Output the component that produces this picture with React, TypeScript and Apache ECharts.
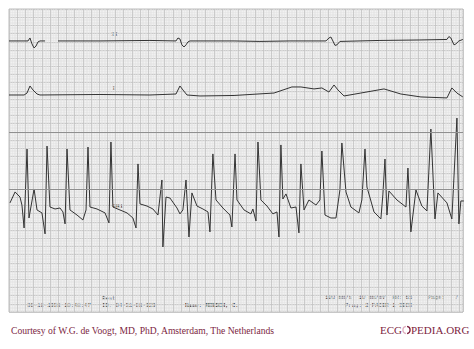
import React, { useEffect, useRef } from "react";
import * as echarts from "echarts";

// Paper: 100 mm/s, 10 mm/mV -> one large square = 50 ms x 0.5 mV
const stripMs = 2770;
const paperMv = 18.5;
const heavyLinesMv = [11, 7.5];

// Lead II (time in ms, amplitude in mV), null = gap in the trace
const leadIITime = [0, 116, 128, 140, 153, 165, 177, 189, 220, 225, 299, 555, 860, 1019, 1031, 1043, 1055, 1068, 1080, 1092, 1104, 1373, 1531, 1714, 1934, 1952, 1964, 1976, 1989, 2001, 2019, 2263, 2507, 2672, 2684, 2696, 2715, 2727, 2745, 2769];
const leadIIAmp = [0, 0, 0.18, -0.18, -0.43, -0.31, -0.06, 0, 0, null, 0, 0, 0.03, 0, 0.18, 0.12, -0.24, -0.37, -0.24, -0.06, 0, 0, -0.03, 0, 0, 0.18, 0.24, 0, -0.27, -0.24, -0.03, 0.03, 0.06, 0.09, 0.27, 0.18, -0.24, -0.18, 0, 0.09];

// Lead I
const leadITime = [0, 92, 110, 128, 146, 171, 189, 555, 860, 1019, 1043, 1061, 1086, 1165, 1373, 1617, 1726, 1781, 1861, 1909, 1952, 1983, 2007, 2044, 2147, 2288, 2391, 2513, 2672, 2702, 2733, 2769];
const leadIAmp = [0, 0, 0.12, 0.55, 0.31, 0.06, 0, 0.03, 0, 0.06, 0.55, 0.31, 0, -0.06, -0.03, 0.12, 0.49, 0.49, 0.37, 0.43, 0.18, 0.61, 0.31, -0.06, 0.12, 0.37, 0.06, -0.12, -0.18, 0.43, 0.12, -0.12];

// Rhythm strip
const stripTime = [6, 37, 67, 79, 92, 110, 122, 153, 171, 201, 220, 232, 250, 281, 311, 329, 342, 354, 372, 415, 451, 470, 482, 494, 537, 586, 610, 622, 634, 677, 720, 756, 775, 787, 799, 842, 878, 909, 933, 939, 958, 982, 1025, 1043, 1061, 1080, 1098, 1116, 1147, 1183, 1214, 1226, 1244, 1263, 1305, 1348, 1360, 1379, 1391, 1434, 1476, 1488, 1507, 1519, 1537, 1574, 1610, 1635, 1647, 1659, 1671, 1690, 1720, 1751, 1769, 1781, 1800, 1830, 1873, 1897, 1909, 1928, 1964, 1995, 2019, 2031, 2056, 2086, 2135, 2153, 2172, 2184, 2227, 2269, 2281, 2294, 2306, 2318, 2367, 2422, 2434, 2452, 2483, 2519, 2550, 2574, 2599, 2617, 2672, 2702, 2733, 2745, 2757, 2775];
const stripAmp = [-0.18, 0.49, 0.18, -0.31, -1.71, 3.11, -1.1, 0.67, -0.61, -0.79, -2.07, 3.29, -0.43, -0.55, -0.49, -0.73, -1.46, 3.11, -0.61, -0.92, -1.22, -0.61, 3.23, -0.43, -0.55, -0.79, -1.4, 3.54, -0.43, -0.61, -0.79, -1.1, -1.71, 2.2, -0.24, -0.37, -0.55, -0.92, 1.22, -2.87, 0.18, 0.12, -0.49, -0.85, -0.61, 1.22, -2.26, 0.43, -0.37, -0.55, -0.73, -1.95, 2.81, 0, -0.49, -0.92, -1.65, 2.81, 0, -0.61, -0.85, -0.55, -1.28, 3.54, 0, -0.37, -0.85, -0.73, -2.26, 3.36, 0.06, 0.37, -0.49, -0.43, -2.01, 2.2, -0.61, 0, -0.31, 0, 2.99, -0.92, -1.1, -1.1, 0.61, 3.48, 0.49, -0.43, -0.79, 0, 3.11, 0.79, -0.73, -1.16, 0.31, 2.5, -0.92, 0.55, 0, -0.43, 1.95, -1.95, 0.61, -0.37, -0.67, 4.33, -1.16, 0.43, -0.18, -1.16, 5.0, -1.46, -0.06, -0.06];

// Vertical window (mV) of each trace on the paper
const leadIIRange = [-16.55, 1.95];
const leadIRange = [-13.25, 5.25];
const stripRange = [-6.84, 11.66];

const leadLabels = ["II", "I"];
const footerLeft = "Courtesy of W.G. de Voogt, MD, PhD, Amsterdam, The Netherlands";

const pairs = (t: number[], v: (number | null)[]) =>
  t.map((x, i) => [x, v[i] === null ? "-" : v[i]]);

export default function App() {
  const ref = useRef<HTMLDivElement>(null);
  useEffect(() => {
    if (!ref.current) return;
    const chart = echarts.init(ref.current, undefined, { renderer: "svg" });
    const gridPos = { left: 9, top: 9, width: 454, height: 303 };
    const hiddenX = (i: number) => ({
      gridIndex: i, type: "value", min: 0, max: stripMs, show: false,
    });
    const hiddenY = (i: number, r: number[]) => ({
      gridIndex: i, type: "value", min: r[0], max: r[1], show: false,
    });
    const mono = "'Liberation Mono', 'DejaVu Sans Mono', monospace";
    const txt = (x: number, y: number, text: string, extra: any = {}) => ({
      type: "text", x, y,
      style: {
        text, font: `5.6px ${mono}`, fill: "#2a2a2a", textVerticalAlign: "middle", ...extra,
      },
      silent: true,
    });
    const traceSeries = (i: number, data: any[]) => ({
      type: "line", xAxisIndex: i, yAxisIndex: i, data, symbol: "none",
      lineStyle: { color: "#333333", width: 1 }, connectNulls: false,
    });
    const paperLines = {
      splitLine: { show: true, lineStyle: { color: "#c2c2c2", width: 0.8 } },
      minorTick: { show: false, splitNumber: 5 },
      minorSplitLine: { show: true, lineStyle: { color: "#e2e2e2", width: 0.5 } },
    };
    chart.setOption({
      animation: false,
      backgroundColor: "#ffffff",
      grid: [
        { ...gridPos, show: true, backgroundColor: "#f1f1f1", borderColor: "#bdbdbd", borderWidth: 1 },
        { ...gridPos }, { ...gridPos }, { ...gridPos },
      ],
      xAxis: [
        {
          gridIndex: 0, type: "value", min: 0, max: stripMs, interval: 50,
          axisLine: { show: false }, axisTick: { show: false }, axisLabel: { show: false },
          ...paperLines,
        },
        hiddenX(1), hiddenX(2), hiddenX(3),
      ],
      yAxis: [
        {
          gridIndex: 0, type: "value", min: 0, max: paperMv, interval: 0.5,
          axisLine: { show: false }, axisTick: { show: false }, axisLabel: { show: false },
          ...paperLines,
        },
        hiddenY(1, leadIIRange), hiddenY(2, leadIRange), hiddenY(3, stripRange),
      ],
      series: [
        {
          type: "line", xAxisIndex: 0, yAxisIndex: 0, data: [], symbol: "none",
          markLine: {
            silent: true, symbol: "none", label: { show: false },
            lineStyle: { color: "#8f8f8f", width: 1, type: "solid" },
            data: heavyLinesMv.map((v) => ({ yAxis: v })),
          },
        },
        traceSeries(1, pairs(leadIITime, leadIIAmp)),
        traceSeries(2, pairs(leadITime, leadIAmp)),
        traceSeries(3, pairs(stripTime, stripAmp)),
      ],
      graphic: [
        txt(111, 34, leadLabels[0], { font: `6px ${mono}` }),
        txt(112, 88, leadLabels[1], { font: `6px ${mono}` }),
        txt(113, 206, "PM1", { font: `bold 5.6px ${mono}`, fill: "#222" }),
        txt(102, 298, "Rest"),
        txt(27, 305, "06-18-1998 10:48:47"),
        txt(102, 305, "ID: 04-31-08-929"),
        txt(185, 305, "Name: MENSCH, C.", { font: `bold 5.6px ${mono}`, fill: "#1a1a1a" }),
        txt(325, 297, "100 mm/s  10 mm/mV  HR: 65"),
        txt(428, 297, "Page:   7"),
        txt(345, 305, "Prog: 2 PACER 1 IECG"),
        {
          type: "text", x: 11, y: 330, silent: true,
          style: {
            text: footerLeft, font: "9.6px 'Liberation Serif', 'DejaVu Serif', serif",
            fill: "#7d1f3f", textVerticalAlign: "middle",
          },
        },
        {
          type: "text", x: 380, y: 330, silent: true,
          style: {
            text: "ECG", font: "11px 'Liberation Serif', serif",
            fill: "#7d1f3f", textVerticalAlign: "middle",
          },
        },
        {
          type: "arc", silent: true,
          shape: { cx: 406.5, cy: 330, r: 3.6, startAngle: Math.PI * 0.55, endAngle: Math.PI * 1.45 },
          style: { stroke: "#e0b0bf", lineWidth: 1.3, fill: "none" },
        },
        {
          type: "arc", silent: true,
          shape: { cx: 406.5, cy: 330, r: 3.6, startAngle: -Math.PI * 0.45, endAngle: Math.PI * 0.45 },
          style: { stroke: "#7d1f3f", lineWidth: 1.3, fill: "none" },
        },
        {
          type: "text", x: 411, y: 330, silent: true,
          style: {
            text: "PEDIA.ORG", font: "11px 'Liberation Serif', serif",
            fill: "#7d1f3f", textVerticalAlign: "middle",
          },
        },
      ],
    });
    return () => chart.dispose();
  }, []);
  return (
    <div
      ref={ref}
      style={{ position: "absolute", left: 0, top: 0, width: 474, height: 349 }}
    />
  );
}
